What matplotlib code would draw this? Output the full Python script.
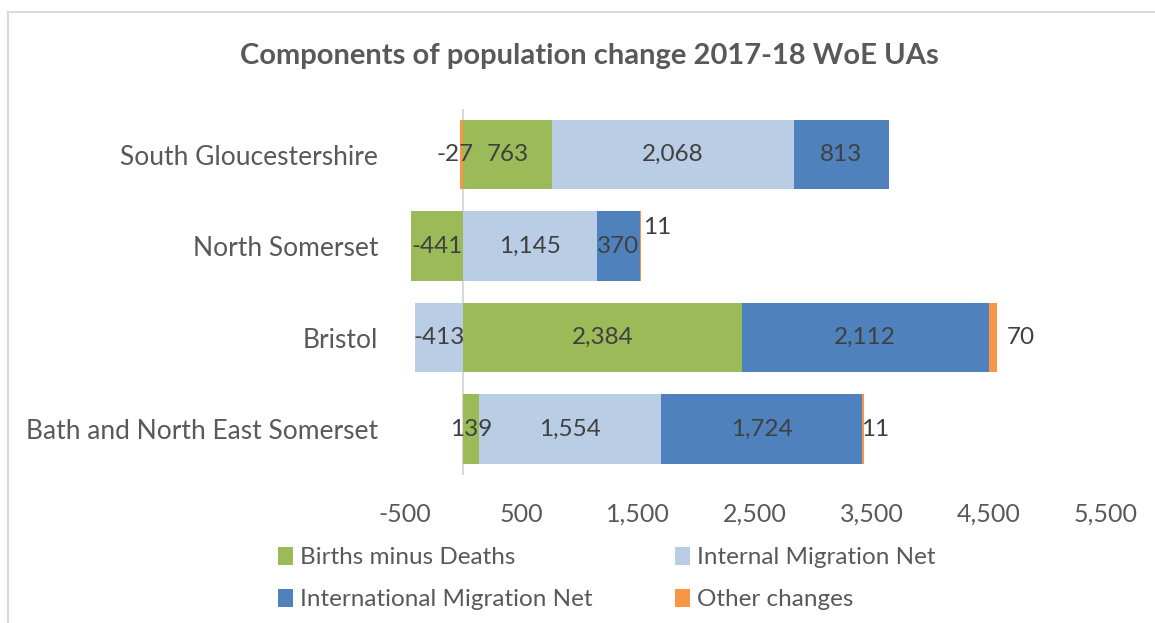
import matplotlib
matplotlib.use("Agg")
import matplotlib.pyplot as plt
from matplotlib.patches import Rectangle, Patch
from matplotlib.ticker import FuncFormatter

plt.rcParams['font.family'] = ['Lato', 'DejaVu Sans']

categories = ["South Gloucestershire", "North Somerset", "Bristol", "Bath and North East Somerset"]
series_names = ["Births minus Deaths", "Internal Migration Net", "International Migration Net", "Other changes"]
births = [763, -441, 2384, 139]
internal = [2068, 1145, -413, 1554]
international = [813, 370, 2112, 1724]
other = [-27, 11, 70, 11]
xticks = [-500, 500, 1500, 2500, 3500, 4500, 5500]
colors = ["#9BBB59", "#B9CDE5", "#4F81BD", "#F79646"]

series = [births, internal, international, other]
text_col = "#595959"
label_col = "#404040"

fig = plt.figure(figsize=(11.55, 6.23), dpi=100)
ax = fig.add_axes([0.3502, 0.2376, 0.6074, 0.5875])

n = len(categories)
ypos = list(range(n))
pos_base = [0.0] * n
neg_base = [0.0] * n
segs = []
for si, vals in enumerate(series):
    lefts = []
    for ci, v in enumerate(vals):
        if v >= 0:
            lefts.append(pos_base[ci]); pos_base[ci] += v
        else:
            neg_base[ci] += v; lefts.append(neg_base[ci])
    widths = [abs(v) for v in vals]
    ax.barh(ypos, widths, left=lefts, height=0.76, color=colors[si],
            label=series_names[si], zorder=2)
    for ci, v in enumerate(vals):
        segs.append((si, ci, lefts[ci], abs(v), v))

fs_lab = 17.5
# label placement tweaks for the small "Other changes" segments (x offset in data units, y offset)
other_offsets = {0: (-55, 0.0), 1: (15, -0.2), 2: (85, 0.0), 3: (-20, 0.0)}
for si, ci, left, w, v in segs:
    txt = f"{v:,}"
    if si == 3:
        dx, dy = other_offsets[ci]
        if v < 0:
            ax.text(left + w / 2 + dx, ci + dy, txt, ha='center', va='center',
                    fontsize=fs_lab, color=label_col, zorder=3)
        else:
            ax.text(left + w + dx, ci + dy, txt, ha='left', va='center',
                    fontsize=fs_lab, color=label_col, zorder=3)
    else:
        ax.text(left + w / 2, ci, txt, ha='center', va='center',
                fontsize=fs_lab, color=label_col, zorder=3)

ax.set_xlim(-500, 5500)
ax.set_ylim(n - 0.5, -0.5)
ax.set_xticks(xticks)
ax.xaxis.set_major_formatter(FuncFormatter(lambda x, p: f"{int(x):,}"))
ax.set_yticks(ypos)
ax.set_yticklabels(categories)
ax.tick_params(axis='x', length=0, labelsize=18, colors=text_col, pad=20)
ax.tick_params(axis='y', length=0, labelsize=19, colors=text_col, pad=19)
for sp in ax.spines.values():
    sp.set_visible(False)
ax.axvline(0, color="#D9D9D9", lw=1.5, zorder=1)

fig.text(0.51, 0.91, "Components of population change 2017-18 WoE UAs",
         ha='center', va='center', fontsize=21, fontweight='bold', color=text_col)

handles = [Patch(facecolor=colors[i], label=series_names[i]) for i in [0, 2, 1, 3]]
leg = fig.legend(handles=handles, ncol=2, loc='upper left', bbox_to_anchor=(0.2407, 0.122),
                 frameon=False, fontsize=17.5, handlelength=0.6, handleheight=0.75,
                 handletextpad=0.3, columnspacing=3.4, labelspacing=0.85,
                 borderaxespad=0, borderpad=0)
for t in leg.get_texts():
    t.set_color(text_col)

fig.patches.append(Rectangle((8 / 1155, -0.02), 1.05, 1 - 12 / 623 + 0.02,
                             transform=fig.transFigure, fill=False,
                             edgecolor="#D9D9D9", lw=1.5))

fig.savefig("out.png", dpi=100)
